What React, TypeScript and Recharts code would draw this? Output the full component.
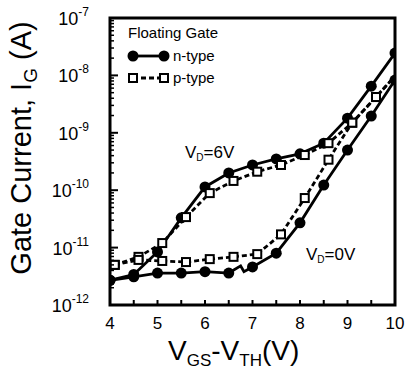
import { LineChart, Line, XAxis, YAxis, ReferenceArea, Customized } from 'recharts'

// gate voltage overdrive (V); p-type points sit ~0.1 V to the right of n-type ones
const xN = [4, 4.5, 5, 5.5, 6, 6.5, 7, 7.5, 8, 8.5, 9, 9.5, 10]
const xP = [4.1, 4.6, 5.1, 5.6, 6.1, 6.6, 7.1, 7.6, 8.1, 8.6, 9.1, 9.6, 10.1]
const xN0 = [4, 4.5, 5, 5.5, 6, 6.5, 6.75, 6.82, 7, 7.5, 8, 8.5, 9, 9.5, 10]

// gate current (A)
const nType6V = [2.7e-12, 3.4e-12, 8.4e-12, 3.3e-11, 1.14e-10, 2.0e-10, 2.75e-10, 3.5e-10, 4.3e-10, 6.6e-10, 1.8e-9, 6.5e-9, 2.45e-8]
const pType6V = [5.0e-12, 6.9e-12, 1.2e-11, 3.4e-11, 8.9e-11, 1.45e-10, 2.1e-10, 2.75e-10, 4.1e-10, 6.6e-10, 1.5e-9, 4.2e-9, 1.2e-8]
const nType0V = [2.7e-12, 3.1e-12, 3.6e-12, 3.6e-12, 3.8e-12, 3.6e-12, 4.8e-12, 3.8e-12, 4.6e-12, 8.0e-12, 2.7e-11, 1.23e-10, 5.0e-10, 1.96e-9, 8.3e-9]
const pType0V = [5.0e-12, 6.1e-12, 5.85e-12, 5.6e-12, 6.3e-12, 6.9e-12, 7.7e-12, 1.7e-11, 7.3e-11, 3.4e-10, 1.5e-9, 4.2e-9, 1.2e-8]

const xTicks = [4, 4.5, 5, 5.5, 6, 6.5, 7, 7.5, 8, 8.5, 9, 9.5, 10]
const yDecades = [-12, -11, -10, -9, -8, -7]

const FONT = '"Liberation Sans", Arial, Helvetica, sans-serif'

const yTicks: number[] = []
yDecades.forEach((d, i) => {
  yTicks.push(Math.pow(10, d))
  if (i < yDecades.length - 1) {
    for (let k = 2; k <= 9; k++) yTicks.push(k * Math.pow(10, d))
  }
})

const toPoints = (xs: number[], ys: number[]) => xs.map((x, i) => ({ x, y: ys[i] }))

const circleDot = (props: any) => {
  const { cx, cy, index, payload } = props
  if (!xN.includes(payload.x)) return <g key={`c-${index}`} />
  return <circle key={`c-${index}`} cx={cx} cy={cy} r={5.5} fill="#000" />
}

const squareDot = (props: any) => {
  const { cx, cy, index } = props
  return (
    <rect key={`s-${index}`} x={cx - 4} y={cy - 4} width={8} height={8}
      fill="#fff" stroke="#000" strokeWidth={2} />
  )
}

const XTick = ({ x, y, payload }: any) => {
  const v = payload.value
  const major = Number.isInteger(v)
  return (
    <g>
      <line x1={x} y1={y} x2={x} y2={y - 5} stroke="#000" strokeWidth={2} />
      {major && (
        <text x={x} y={y + 24} textAnchor="middle" fontSize={17} fontFamily={FONT} fill="#000">
          {v}
        </text>
      )}
    </g>
  )
}

const YTick = ({ x, y, payload }: any) => {
  const e = Math.log10(payload.value)
  const major = Math.abs(e - Math.round(e)) < 1e-6
  return (
    <g>
      <line x1={x} y1={y} x2={x + (major ? 8 : 4)} y2={y} stroke="#000" strokeWidth={major ? 2 : 1.5} />
      {major && (
        <text x={x - 21} y={y + 7} textAnchor="end" fontSize={18} fontFamily={FONT} fill="#000">
          10<tspan fontSize={12} dy={-9}>{Math.round(e)}</tspan>
        </text>
      )}
    </g>
  )
}

const Annotations = () => (
  <g fontFamily={FONT} fill="#000">
    {/* legend */}
    <text x={128} y={38} fontSize={15}>Floating Gate</text>
    <line x1={133} y1={56} x2={164} y2={56} stroke="#000" strokeWidth={2.8} />
    <circle cx={133} cy={56} r={5.5} fill="#000" />
    <circle cx={164} cy={56} r={5.5} fill="#000" />
    <text x={173} y={61} fontSize={15}>n-type</text>
    <line x1={133} y1={78} x2={164} y2={78} stroke="#000" strokeWidth={2.8} strokeDasharray="5 3" />
    <rect x={129} y={74} width={8} height={8} fill="#fff" stroke="#000" strokeWidth={2} />
    <rect x={160} y={74} width={8} height={8} fill="#fff" stroke="#000" strokeWidth={2} />
    <text x={173} y={83} fontSize={15}>p-type</text>

    {/* curve labels */}
    <text x={185} y={158} fontSize={17}>
      V<tspan fontSize={10} dy={3}>D</tspan><tspan dy={-3}>=6V</tspan>
    </text>
    <text x={306} y={260} fontSize={17}>
      V<tspan fontSize={10} dy={3}>D</tspan><tspan dy={-3}>=0V</tspan>
    </text>

    {/* axis titles */}
    <text x={168} y={360} fontSize={28}>
      V<tspan fontSize={17} dy={6}>GS</tspan><tspan dy={-6}>-V</tspan>
      <tspan fontSize={17} dy={6}>TH</tspan><tspan dy={-6}>(V)</tspan>
    </text>
    <text transform="translate(31,148) rotate(-90)" textAnchor="middle" fontSize={29}>
      Gate Current, I<tspan fontSize={19} dy={6}>G</tspan><tspan dy={-6}> (A)</tspan>
    </text>
  </g>
)

export default function App() {
  return (
    <div style={{ position: 'absolute', left: 0, top: 0, width: 407, height: 370, background: '#fff', fontFamily: FONT }}>
      <LineChart width={407} height={370} margin={{ top: 18, right: 12, bottom: 0, left: 0 }}>
        <XAxis
          type="number"
          dataKey="x"
          domain={[4, 10]}
          ticks={xTicks}
          interval={0}
          allowDataOverflow
          axisLine={false}
          tickLine={false}
          tickSize={0}
          tickMargin={0}
          height={65}
          tick={<XTick />}
        />
        <YAxis
          type="number"
          scale="log"
          domain={[1e-12, 1e-7]}
          ticks={yTicks}
          interval={0}
          allowDataOverflow
          axisLine={false}
          tickLine={false}
          tickSize={0}
          tickMargin={0}
          width={110}
          tick={<YTick />}
        />
        <ReferenceArea x1={4} x2={10} y1={1e-12} y2={1e-7} fill="none" stroke="#000" strokeWidth={3} />
        <Line data={toPoints(xN, nType6V)} dataKey="y" type="linear" stroke="#000" strokeWidth={2.8}
          dot={circleDot} isAnimationActive={false} />
        <Line data={toPoints(xN0, nType0V)} dataKey="y" type="linear" stroke="#000" strokeWidth={2.8}
          dot={circleDot} isAnimationActive={false} />
        <Line data={toPoints(xP, pType6V)} dataKey="y" type="linear" stroke="#000" strokeWidth={2.8}
          strokeDasharray="5 3" dot={squareDot} isAnimationActive={false} />
        <Line data={toPoints(xP, pType0V)} dataKey="y" type="linear" stroke="#000" strokeWidth={2.8}
          strokeDasharray="5 3" dot={squareDot} isAnimationActive={false} />
        <Customized component={Annotations} />
      </LineChart>
    </div>
  )
}
